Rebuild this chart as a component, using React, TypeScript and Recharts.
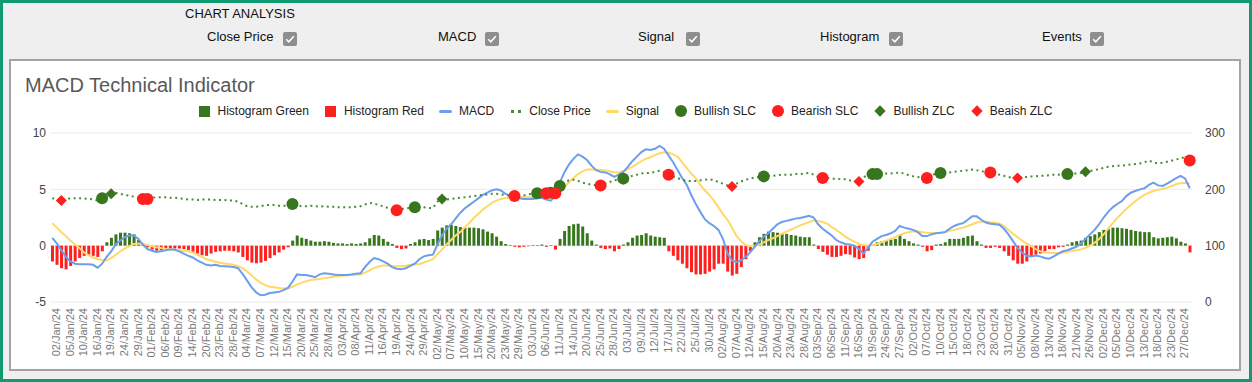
import React from "react";
import { Bar, CartesianGrid, ComposedChart, Line, XAxis, YAxis } from "recharts";

// NYSE trading days of 2024, one list per month
const MONTHS = ["Jan", "Feb", "Mar", "Apr", "May", "Jun", "Jul", "Aug", "Sep", "Oct", "Nov", "Dec"];
const TRADING_DAYS: number[][] = [
  [2, 3, 4, 5, 8, 9, 10, 11, 12, 16, 17, 18, 19, 22, 23, 24, 25, 26, 29, 30, 31],
  [1, 2, 5, 6, 7, 8, 9, 12, 13, 14, 15, 16, 20, 21, 22, 23, 26, 27, 28, 29],
  [1, 4, 5, 6, 7, 8, 11, 12, 13, 14, 15, 18, 19, 20, 21, 22, 25, 26, 27, 28],
  [1, 2, 3, 4, 5, 8, 9, 10, 11, 12, 15, 16, 17, 18, 19, 22, 23, 24, 25, 26, 29, 30],
  [1, 2, 3, 6, 7, 8, 9, 10, 13, 14, 15, 16, 17, 20, 21, 22, 23, 24, 28, 29, 30, 31],
  [3, 4, 5, 6, 7, 10, 11, 12, 13, 14, 17, 18, 20, 21, 24, 25, 26, 27, 28],
  [1, 2, 3, 5, 8, 9, 10, 11, 12, 15, 16, 17, 18, 19, 22, 23, 24, 25, 26, 29, 30, 31],
  [1, 2, 5, 6, 7, 8, 9, 12, 13, 14, 15, 16, 19, 20, 21, 22, 23, 26, 27, 28, 29, 30],
  [3, 4, 5, 6, 9, 10, 11, 12, 13, 16, 17, 18, 19, 20, 23, 24, 25, 26, 27, 30],
  [1, 2, 3, 4, 7, 8, 9, 10, 11, 14, 15, 16, 17, 18, 21, 22, 23, 24, 25, 28, 29, 30, 31],
  [1, 4, 5, 6, 7, 8, 11, 12, 13, 14, 15, 18, 19, 20, 21, 22, 25, 26, 27, 29],
  [2, 3, 4, 5, 6, 9, 10, 11, 12, 13, 16, 17, 18, 19, 20, 23, 24, 26, 27, 30, 31],
];

// one line per month
const macdValues = [
  0.7, 0.2, -0.4, -1.0, -1.4, -1.6, -1.65, -1.65, -1.65, -1.7, -1.95, -1.6, -1.0, -0.5, 0.1, 0.45, 0.75, 0.9, 0.9, 0.6, 0.1,
  -0.3, -0.45, -0.55, -0.5, -0.4, -0.35, -0.35, -0.5, -0.7, -0.9, -1.05, -1.3, -1.5, -1.7, -1.75, -1.7, -1.8, -1.82, -1.85, -1.9,
  -2.0, -2.5, -3.1, -3.7, -4.15, -4.4, -4.35, -4.2, -4.15, -4.1, -3.95, -3.75, -3.2, -2.55, -2.6, -2.6, -2.7, -2.8, -2.55, -2.45,
  -2.5, -2.55, -2.6, -2.6, -2.6, -2.55, -2.5, -2.45, -1.9, -1.45, -1.1, -1.2, -1.4, -1.6, -1.9, -2.05, -2.1, -2.0, -1.8, -1.6, -1.2, -0.95,
  -0.85, -0.8, 0.1, 0.9, 1.5, 1.9, 2.4, 2.9, 3.3, 3.6, 3.9, 4.2, 4.5, 4.7, 4.9, 5.0, 4.9, 4.6, 4.45, 4.35, 4.2, 4.15,
  4.15, 4.15, 4.2, 4.25, 4.1, 4.0, 4.4, 5.6, 6.5, 7.2, 7.7, 8.1, 7.9, 7.6, 7.1, 6.7, 6.55, 6.5, 6.35,
  6.1, 6.3, 6.55, 7.0, 7.5, 7.9, 8.3, 8.55, 8.5, 8.6, 8.85, 8.6, 8.0, 7.4, 6.7, 6.0, 5.4, 4.5, 3.7, 3.0, 2.35, 2.0,
  1.75, 1.4, 0.6, -0.7, -1.3, -1.45, -1.3, -1.0, -0.6, -0.1, 0.4, 0.8, 1.1, 1.5, 1.9, 2.1, 2.2, 2.3, 2.4, 2.45, 2.55, 2.65,
  2.5, 1.9, 1.5, 1.2, 0.9, 0.5, 0.3, 0.15, 0.1, 0.0, -0.3, -0.7, -0.2, 0.35, 0.6, 0.85, 0.95, 1.1, 1.3, 1.75,
  1.6, 1.5, 1.4, 1.2, 0.85, 0.85, 1.0, 1.1, 1.15, 1.2, 1.5, 1.75, 1.9, 2.0, 2.3, 2.6, 2.6, 2.3, 2.05, 1.95, 1.9, 1.85, 1.5,
  1.0, 0.4, -0.2, -0.6, -0.9, -0.95, -0.88, -0.95, -1.1, -1.15, -0.95, -0.7, -0.5, -0.4, -0.25, -0.1, 0.2, 0.6, 1.0, 1.4,
  1.9, 2.5, 3.0, 3.4, 3.7, 3.95, 4.4, 4.7, 4.85, 5.0, 5.1, 5.4, 5.6, 5.35, 5.3, 5.5, 5.75, 6.0, 6.2, 5.95, 5.1,
];

const signalValues = [
  2.0, 1.6, 1.2, 0.85, 0.45, 0.1, -0.2, -0.6, -0.85, -1.05, -1.2, -1.28, -1.3, -1.1, -0.8, -0.5, -0.25, -0.05, 0.15, 0.2, 0.15,
  0.05, -0.05, -0.15, -0.2, -0.28, -0.35, -0.4, -0.42, -0.45, -0.5, -0.6, -0.8, -1.0, -1.2, -1.3, -1.42, -1.52, -1.58, -1.62, -1.7,
  -1.82, -2.0, -2.3, -2.65, -3.0, -3.3, -3.5, -3.65, -3.7, -3.75, -3.8, -3.8, -3.65, -3.45, -3.3, -3.15, -3.05, -3.0, -2.95, -2.9,
  -2.82, -2.75, -2.7, -2.66, -2.63, -2.6, -2.58, -2.56, -2.4, -2.2, -1.97, -1.85, -1.75, -1.75, -1.8, -1.83, -1.83, -1.78, -1.7, -1.65, -1.65, -1.5,
  -1.35, -1.2, -0.75, -0.35, 0.1, 0.5, 0.9, 1.2, 1.6, 2.0, 2.45, 2.8, 3.2, 3.5, 3.8, 4.0, 4.15, 4.22, 4.27, 4.3, 4.3, 4.3,
  4.3, 4.3, 4.3, 4.3, 4.35, 4.4, 4.5, 4.8, 5.2, 5.6, 6.0, 6.35, 6.6, 6.75, 6.75, 6.73, 6.73, 6.68, 6.6,
  6.52, 6.5, 6.6, 6.8, 7.0, 7.25, 7.5, 7.7, 7.85, 8.05, 8.2, 8.29, 8.25, 8.1, 7.9, 7.4, 6.9, 6.4, 6.0, 5.4, 4.9, 4.5,
  4.0, 3.4, 2.8, 2.3, 1.6, 0.85, 0.4, 0.05, -0.05, -0.02, 0.1, 0.3, 0.5, 0.65, 0.85, 1.05, 1.25, 1.42, 1.6, 1.8, 1.95, 2.1,
  2.24, 2.2, 2.1, 1.95, 1.65, 1.4, 1.1, 0.8, 0.55, 0.35, 0.15, 0.05, 0.0, 0.05, 0.15, 0.3, 0.45, 0.6, 0.75, 0.95,
  1.1, 1.2, 1.27, 1.25, 1.2, 1.15, 1.12, 1.12, 1.15, 1.22, 1.32, 1.4, 1.5, 1.6, 1.75, 1.9, 2.05, 2.15, 2.12, 2.08, 2.03, 1.95, 1.75,
  1.4, 1.05, 0.75, 0.45, 0.18, -0.05, -0.3, -0.5, -0.6, -0.63, -0.65, -0.65, -0.62, -0.55, -0.48, -0.4, -0.33, -0.2, 0.0, 0.25,
  0.6, 1.0, 1.5, 2.0, 2.45, 2.85, 3.25, 3.6, 3.95, 4.25, 4.5, 4.7, 4.85, 4.95, 5.05, 5.15, 5.3, 5.45, 5.55, 5.58, 5.5,
];

const histogramValues = [
  -1.4, -1.7, -2.0, -2.1, -1.8, -1.4, -1.1, -0.9, -0.8, -0.9, -1.0, -0.5, 0.3, 0.7, 1.0, 1.15, 1.15, 1.1, 1.0, 0.5, 0.1,
  -0.15, -0.35, -0.45, -0.4, -0.3, -0.25, -0.25, -0.25, -0.3, -0.4, -0.55, -0.7, -0.85, -0.9, -0.7, -0.55, -0.5, -0.45, -0.45, -0.5,
  -0.6, -1.0, -1.3, -1.5, -1.55, -1.5, -1.35, -1.1, -0.85, -0.6, -0.35, -0.15, 0.45, 0.9, 0.7, 0.6, 0.45, 0.35, 0.35, 0.4,
  0.35, 0.25, 0.2, 0.2, 0.15, 0.2, 0.15, 0.2, 0.3, 0.65, 0.95, 0.9, 0.6, 0.35, 0.15, -0.2, -0.3, -0.25, 0.15, 0.3, 0.55, 0.6,
  0.5, 0.6, 1.35, 1.6, 1.8, 1.85, 1.75, 1.65, 1.6, 1.6, 1.6, 1.55, 1.45, 1.25, 1.1, 0.8, 0.4, 0.15, 0.05, -0.1, -0.15, -0.1,
  -0.05, 0.05, 0.05, 0.1, -0.1, 0.05, -0.35, 0.6, 1.3, 1.75, 1.9, 1.95, 1.7, 1.1, 0.45, 0.1, -0.2, -0.3, -0.25,
  -0.5, -0.3, 0.1, 0.3, 0.7, 0.9, 0.95, 1.1, 0.9, 0.8, 0.75, 0.7, -0.5, -0.9, -1.3, -1.6, -2.0, -2.35, -2.55, -2.55, -2.5, -2.3,
  -2.1, -1.6, -1.6, -2.3, -2.65, -2.5, -1.9, -1.2, -0.5, 0.3, 0.75, 1.05, 1.25, 1.2, 1.15, 1.1, 1.05, 0.95, 0.9, 0.8, 0.75, 0.75,
  0.1, -0.3, -0.55, -0.8, -1.0, -1.0, -0.9, -0.75, -0.8, -1.05, -1.2, -1.1, -0.45, 0.15, 0.3, 0.4, 0.5, 0.55, 0.6, 0.95,
  0.6, 0.4, 0.2, 0.1, -0.1, -0.5, -0.4, 0.1, 0.15, 0.3, 0.6, 0.6, 0.6, 0.7, 0.85, 0.9, 0.4, 0.1, -0.2, -0.2, -0.1, -0.2, -0.5,
  -0.9, -1.3, -1.6, -1.6, -1.4, -1.0, -0.8, -0.7, -0.5, -0.3, -0.3, -0.15, -0.1, 0.1, 0.3, 0.4, 0.45, 0.7, 0.85, 1.0,
  1.2, 1.4, 1.5, 1.6, 1.6, 1.55, 1.5, 1.4, 1.3, 1.25, 1.2, 1.2, 0.75, 0.65, 0.7, 0.75, 0.8, 0.65, 0.35, 0.2, -0.6,
];

const closePrices = [
  184, 183, 180, 183, 184, 184, 184, 184, 183, 182, 180, 184, 189, 192, 194, 192, 190, 189, 187, 185, 183,
  183, 185, 186, 186, 186, 185, 185, 184, 183, 182, 182, 181, 182, 182, 182, 181, 181, 181, 180, 180,
  178, 174, 170, 169, 169, 170, 172, 172, 172, 171, 171, 171, 174, 172, 170, 170, 171, 170, 169, 170,
  169, 169, 168, 168, 168, 168, 169, 170, 173, 176, 175, 172, 170, 167, 164, 163, 165, 166, 167, 168, 169, 168,
  167, 167, 178, 183, 182, 183, 184, 185, 186, 187, 188, 189, 190, 191, 192, 192, 191, 190, 189, 188, 188, 189,
  191, 192, 193, 193, 193, 194, 193, 206, 212, 216, 217, 215, 212, 210, 208, 207, 207, 210, 213,
  216, 218, 219, 221, 224, 226, 228, 229, 229, 231, 233, 230, 226, 223, 220, 217, 215, 215, 215, 216, 217, 218,
  216, 213, 210, 207, 205, 210, 214, 217, 219, 221, 222, 223, 224, 224, 225, 226, 226, 226, 227, 227, 228, 229,
  226, 222, 220, 220, 219, 219, 218, 218, 216, 215, 214, 221, 226, 227, 227, 228, 228, 228, 229, 230,
  228, 225, 223, 222, 221, 220, 225, 228, 229, 229, 230, 231, 232, 233, 234, 235, 234, 232, 231, 230, 228, 226, 224,
  222, 220, 220, 221, 222, 223, 223, 224, 224, 225, 226, 226, 227, 227, 228, 228, 229, 231, 233, 234,
  236, 238, 240, 241, 242, 242, 243, 244, 245, 246, 248, 251, 248, 246, 247, 249, 251, 253, 255, 257, 251,
];

// crossover events, drawn on the close price of that day
const bullishSLC = ["18/Jan/24", "19/Mar/24", "26/Apr/24", "05/Jun/24", "10/Jun/24", "12/Jun/24", "03/Jul/24", "16/Aug/24", "20/Sep/24", "23/Sep/24", "11/Oct/24", "20/Nov/24"];
const bearishSLC = ["31/Jan/24", "01/Feb/24", "22/Apr/24", "29/May/24", "07/Jun/24", "11/Jun/24", "26/Jun/24", "18/Jul/24", "05/Sep/24", "08/Oct/24", "28/Oct/24", "31/Dec/24"];
const bullishZLC = ["22/Jan/24", "06/May/24", "26/Nov/24"];
const bearishZLC = ["04/Jan/24", "07/Aug/24", "17/Sep/24", "05/Nov/24"];

const macdTicks = [-5, 0, 5, 10];
const priceTicks = [0, 100, 200, 300];
const toggles = ["Close Price", "MACD", "Signal", "Histogram", "Events"];

const GREEN = "#38761d";
const RED = "#ff1f1f";
const BLUE = "#6d9eeb";
const YELLOW = "#ffd966";
const CLOSE_GREEN = "#4a8c34";
const FONT = "Arial, 'Liberation Sans', sans-serif";

const dates = TRADING_DAYS.flatMap((days, m) =>
  days.map((d) => `${String(d).padStart(2, "0")}/${MONTHS[m]}/24`)
);

const chartData = dates.map((date, i) => ({
  date,
  histGreen: histogramValues[i] >= 0 ? histogramValues[i] : 0,
  histRed: histogramValues[i] < 0 ? histogramValues[i] : 0,
  macd: macdValues[i],
  signal: signalValues[i],
  close: closePrices[i],
  bullSLC: bullishSLC.includes(date) ? closePrices[i] : null,
  bearSLC: bearishSLC.includes(date) ? closePrices[i] : null,
  bullZLC: bullishZLC.includes(date) ? closePrices[i] : null,
  bearZLC: bearishZLC.includes(date) ? closePrices[i] : null,
}));

function markerDot(color: string, diamond: boolean) {
  return (props: any) => {
    const { cx, cy, value, index } = props;
    if (value == null || cx == null || cy == null) return <g key={`e-${index}`} />;
    if (diamond) {
      const r = 5.5;
      return (
        <path
          key={`e-${index}`}
          d={`M${cx},${cy - r}L${cx + r},${cy}L${cx},${cy + r}L${cx - r},${cy}Z`}
          fill={color}
        />
      );
    }
    return <circle key={`e-${index}`} cx={cx} cy={cy} r={6} fill={color} />;
  };
}

function DateTick({ x, y, payload }: any) {
  return (
    <text
      x={x}
      y={y}
      dy="0.71em"
      transform={`rotate(-90, ${x}, ${y})`}
      textAnchor="end"
      fontSize={11}
      fill="#7a7a7a"
    >
      {payload.value}
    </text>
  );
}

function LegendIcon({ kind, color }: { kind: string; color: string }) {
  const box: React.CSSProperties = { width: 14, height: 14, display: "flex", alignItems: "center", justifyContent: "center" };
  if (kind === "square") return <span style={box}><span style={{ width: 11, height: 11, background: color }} /></span>;
  if (kind === "line") return <span style={box}><span style={{ width: 13, height: 3, borderRadius: 2, background: color }} /></span>;
  if (kind === "dots")
    return (
      <span style={{ ...box, gap: 4 }}>
        <span style={{ width: 3, height: 3, background: color }} />
        <span style={{ width: 3, height: 3, background: color }} />
      </span>
    );
  if (kind === "circle") return <span style={box}><span style={{ width: 12, height: 12, borderRadius: 6, background: color }} /></span>;
  return <span style={box}><span style={{ width: 8, height: 8, background: color, transform: "rotate(45deg)" }} /></span>;
}

const legendItems = [
  { label: "Histogram Green", kind: "square", color: GREEN },
  { label: "Histogram Red", kind: "square", color: RED },
  { label: "MACD", kind: "line", color: BLUE },
  { label: "Close Price", kind: "dots", color: CLOSE_GREEN },
  { label: "Signal", kind: "line", color: YELLOW },
  { label: "Bullish SLC", kind: "circle", color: GREEN },
  { label: "Bearish SLC", kind: "circle", color: RED },
  { label: "Bullish ZLC", kind: "diamond", color: GREEN },
  { label: "Beaish ZLC", kind: "diamond", color: RED },
];

function ChartLegend() {
  return (
    <div
      style={{
        position: "absolute",
        left: 9,
        width: 1232,
        top: 104,
        display: "flex",
        justifyContent: "center",
        fontSize: 12,
        color: "#222",
        lineHeight: "14px",
      }}
    >
      {legendItems.map((item, i) => (
        <div
          key={item.label}
          style={{ display: "flex", alignItems: "center", marginRight: i === legendItems.length - 1 ? 0 : 15 }}
        >
          <LegendIcon kind={item.kind} color={item.color} />
          <span style={{ marginLeft: 6 }}>{item.label}</span>
        </div>
      ))}
    </div>
  );
}

function CheckBox({ left }: { left: number }) {
  return (
    <span style={{ position: "absolute", left, top: 29, width: 14, height: 14, borderRadius: 2, background: "#8e8e8e" }}>
      <svg width={14} height={14} style={{ display: "block" }}>
        <polyline points="3.2,7.2 5.8,9.8 10.8,4.3" fill="none" stroke="#fff" strokeWidth={1.6} />
      </svg>
    </span>
  );
}

const toggleLeft = [207, 438, 638, 820, 1042];
const boxLeft = [283, 485, 686, 889, 1090];

export default function App() {
  return (
    <div
      style={{
        position: "absolute",
        left: 0,
        top: 0,
        width: 1252,
        height: 382,
        boxSizing: "border-box",
        border: "3px solid #0f9a72",
        background: "#efefef",
        fontFamily: FONT,
        overflow: "hidden",
      }}
    >
      <div style={{ position: "absolute", left: 182, top: 3, fontSize: 13, lineHeight: "15px", color: "#111" }}>
        CHART ANALYSIS
      </div>
      {toggles.map((t, i) => (
        <React.Fragment key={t}>
          <div style={{ position: "absolute", left: toggleLeft[i] - 3, top: 26, fontSize: 13, lineHeight: "15px", color: "#111" }}>
            {t}
          </div>
          <CheckBox left={boxLeft[i] - 3} />
        </React.Fragment>
      ))}

      <div
        style={{
          position: "absolute",
          left: 6,
          top: 56,
          width: 1232,
          height: 312,
          boxSizing: "border-box",
          border: "2px solid #a3a3a3",
          background: "#fff",
        }}
      />
      <div style={{ position: "absolute", left: 22, top: 71, fontSize: 20, lineHeight: "23px", color: "#595959" }}>
        MACD Technical Indicator
      </div>

      <div style={{ position: "absolute", left: -3, top: -3 }}>
        <ChartLegend />
        <ComposedChart
          width={1252}
          height={382}
          data={chartData}
          stackOffset="sign"
          margin={{ top: 133, right: 10, bottom: 20, left: 10 }}
        >
          <CartesianGrid yAxisId="macd" vertical={false} stroke="#ebebeb" />
          <XAxis
            dataKey="date"
            interval={2}
            tick={<DateTick />}
            tickLine={false}
            axisLine={false}
            tickSize={6}
            tickMargin={0}
            height={60}
          />
          <YAxis
            yAxisId="macd"
            domain={[-5, 10]}
            ticks={macdTicks}
            width={40}
            tickLine={false}
            axisLine={false}
            tickSize={0}
            tickMargin={4}
            tick={{ fontSize: 12, fill: "#444" }}
          />
          <YAxis
            yAxisId="price"
            orientation="right"
            domain={[0, 300]}
            ticks={priceTicks}
            width={50}
            tickLine={false}
            axisLine={false}
            tickSize={0}
            tickMargin={13}
            tick={{ fontSize: 12, fill: "#444" }}
          />
          <Bar yAxisId="macd" dataKey="histGreen" stackId="hist" barSize={3} fill={GREEN} isAnimationActive={false} />
          <Bar yAxisId="macd" dataKey="histRed" stackId="hist" barSize={3} fill={RED} isAnimationActive={false} />
          <Line yAxisId="macd" type="linear" dataKey="signal" stroke={YELLOW} strokeWidth={2} dot={false} activeDot={false} isAnimationActive={false} />
          <Line yAxisId="macd" type="linear" dataKey="macd" stroke={BLUE} strokeWidth={2} dot={false} activeDot={false} isAnimationActive={false} />
          <Line
            yAxisId="price"
            type="linear"
            dataKey="close"
            stroke={CLOSE_GREEN}
            strokeWidth={2}
            strokeDasharray="2 3.5"
            dot={false}
            activeDot={false}
            isAnimationActive={false}
          />
          <Line yAxisId="price" dataKey="bullSLC" stroke="none" dot={markerDot(GREEN, false)} activeDot={false} isAnimationActive={false} />
          <Line yAxisId="price" dataKey="bullZLC" stroke="none" dot={markerDot(GREEN, true)} activeDot={false} isAnimationActive={false} />
          <Line yAxisId="price" dataKey="bearSLC" stroke="none" dot={markerDot(RED, false)} activeDot={false} isAnimationActive={false} />
          <Line yAxisId="price" dataKey="bearZLC" stroke="none" dot={markerDot(RED, true)} activeDot={false} isAnimationActive={false} />
        </ComposedChart>
      </div>
    </div>
  );
}
